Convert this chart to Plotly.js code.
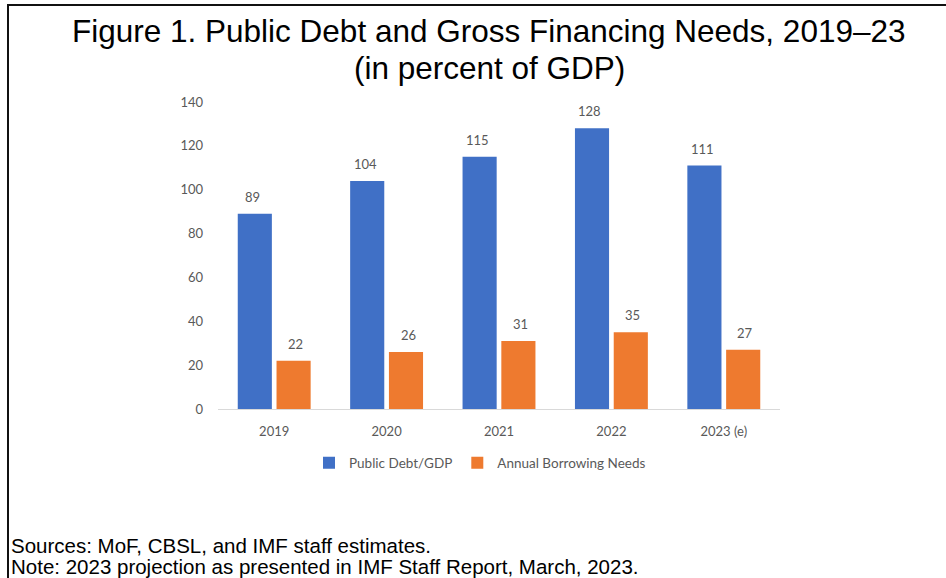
<!DOCTYPE html>
<html>
<head>
<meta charset="utf-8">
<script src="https://cdn.plot.ly/plotly-3.0.1.min.js"></script>
<style>
html,body{margin:0;padding:0;background:#fff;}
#wrap{position:relative;width:946px;height:578px;}
#chart{width:946px;height:578px;}
#frame{position:absolute;left:7px;top:4px;right:-4px;bottom:-4px;border-top:2px solid #111;border-left:2px solid #111;pointer-events:none;}
</style>
</head>
<body>
<div id="wrap"><div id="chart"></div><div id="frame"></div></div>
<script>
const categories = ["2019", "2020", "2021", "2022", "2023 (e)"];
const debtToGdp = [89, 104, 115, 128, 111];
const borrowingNeeds = [22, 26, 31, 35, 27];
const seriesNames = ["Public Debt/GDP", "Annual Borrowing Needs"];
const yTicks = [0, 20, 40, 60, 80, 100, 120, 140];

const chartFont = "Lato, 'Open Sans', sans-serif";
const headFont = "'Liberation Sans', Arial, sans-serif";
const grey = "#595959";

const traces = [
  {type: "bar", name: seriesNames[0], x: categories, y: debtToGdp,
   marker: {color: "#4070c6"}, hoverinfo: "y"},
  {type: "bar", name: seriesNames[1], x: categories, y: borrowingNeeds,
   marker: {color: "#ee7a2f"}, hoverinfo: "y"}
];

const annotations = [];
categories.forEach((c, i) => {
  annotations.push({x: i, y: debtToGdp[i], xref: "x", yref: "y", text: String(debtToGdp[i]),
    showarrow: false, yanchor: "bottom", yshift: 7, xshift: -21.5,
    font: {family: chartFont, size: 13, color: grey}});
  annotations.push({x: i, y: borrowingNeeds[i], xref: "x", yref: "y", text: String(borrowingNeeds[i]),
    showarrow: false, yanchor: "bottom", yshift: 7, xshift: 21.5,
    font: {family: chartFont, size: 13, color: grey}});
});

// titles & notes (paper coordinates; plot area spans px y 102..409)
const py = p => (409 - p) / 307;
const px = p => (p - 218) / 562;
annotations.push({xref: "paper", yref: "paper", x: px(489), y: py(31), xanchor: "center", yanchor: "middle",
  text: "Figure 1. Public Debt and Gross Financing Needs, 2019–23", showarrow: false,
  font: {family: headFont, size: 31.5, color: "#000"}});
annotations.push({xref: "paper", yref: "paper", x: px(489), y: py(68), xanchor: "center", yanchor: "middle",
  text: "(in percent of GDP)", showarrow: false,
  font: {family: headFont, size: 31.5, color: "#000"}});
annotations.push({xref: "paper", yref: "paper", x: px(9), y: py(545), xanchor: "left", yanchor: "middle",
  text: "Sources: MoF, CBSL, and IMF staff estimates.", showarrow: false,
  font: {family: headFont, size: 20.5, color: "#000"}});
annotations.push({xref: "paper", yref: "paper", x: px(9), y: py(566), xanchor: "left", yanchor: "middle",
  text: "Note: 2023 projection as presented in IMF Staff Report, March, 2023.", showarrow: false,
  font: {family: headFont, size: 20.5, color: "#000"}});

const layout = {
  width: 946, height: 578,
  margin: {l: 218, r: 166, t: 102, b: 169, pad: 0},
  paper_bgcolor: "#fff", plot_bgcolor: "#fff",
  barmode: "group", bargap: 0.31, bargroupgap: 0.12,
  showlegend: true,
  legend: {orientation: "h", x: px(480), xanchor: "center", y: py(463), yanchor: "middle",
    font: {family: chartFont, size: 13.5, color: grey}, itemwidth: 30, traceorder: "normal"},
  xaxis: {type: "category", range: [-0.5, categories.length - 0.5], showgrid: false, showline: true,
    linecolor: "#d9d9d9", linewidth: 1,
    ticks: "", ticklabelstandoff: 10, tickfont: {family: chartFont, size: 13, color: grey}, fixedrange: true},
  yaxis: {range: [0, 140], tickvals: yTicks, showgrid: false, zeroline: false, showline: false,
    ticks: "", ticklabelstandoff: 14, tickfont: {family: chartFont, size: 13, color: grey}, fixedrange: true},
  annotations: annotations,
  font: {family: chartFont}
};

Plotly.newPlot("chart", traces, layout, {displayModeBar: false, staticPlot: true});
</script>
</body>
</html>
